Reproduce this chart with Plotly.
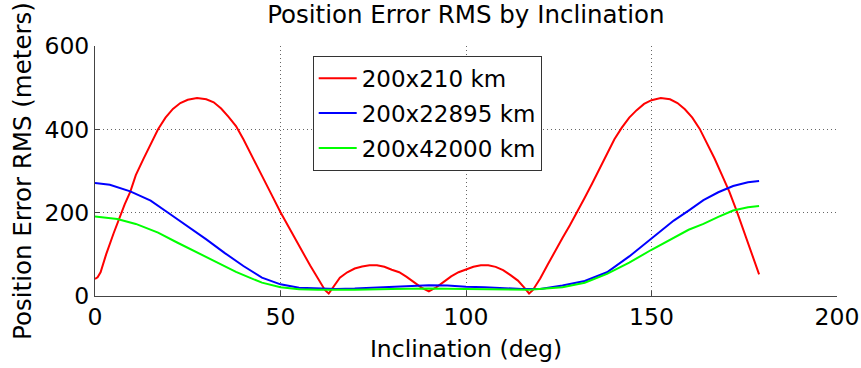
import plotly.graph_objects as go

red_x = [0, 0.7, 1.5, 3, 5, 6.5, 8, 9.5, 11, 13, 15, 17, 19, 21, 23, 25, 27.5, 30, 32, 34, 36, 38, 40, 42, 44, 46, 48,
         50, 52, 54, 56, 58, 60, 62, 63, 64, 66, 68, 70, 72, 74, 76, 78, 80, 82, 84, 86, 88, 90, 92, 94, 96, 98,
         100, 102, 104, 106, 108, 110, 112, 114, 116, 117, 118, 120, 122, 124, 126, 128, 130, 132, 134, 136, 138,
         140, 142, 144, 146, 148, 150, 152.5, 155, 157, 159, 161, 163, 165, 167, 169, 171, 173, 175, 177, 179]
red_y = [41, 45, 57, 100, 150, 187, 220, 250, 290, 328, 364, 400, 428, 449, 463, 471, 475, 472, 465, 450, 430, 408, 376,
         340, 306, 271, 236, 201, 168, 137, 105, 73, 42, 14, 6, 18, 44, 57, 66, 71, 74, 74, 70, 63, 57, 46, 33, 20,
         11, 21, 34, 47, 57, 64, 70, 74, 74, 70, 62, 50, 37, 17, 6, 14, 42, 75, 108, 139, 170, 202, 236, 270, 305,
         342, 376, 404, 428, 446, 461, 470, 475, 472, 463, 448, 428, 401, 366, 330, 290, 250, 203, 152, 102, 52]

blue_x = [0, 4, 9.5, 15, 20, 25, 30, 35, 40, 45, 50, 55, 60, 65, 70, 75, 80, 85, 90, 95, 100, 105, 110, 115, 120,
          126, 132, 138, 144, 150, 156, 160, 164, 168, 172, 176, 179]
blue_y = [271, 267, 251, 229, 198, 168, 136, 103, 72, 44, 28, 20, 18, 17, 18, 20, 22, 25, 26, 25, 22, 21, 19, 17,
          17, 25, 36, 57, 95, 137, 181, 205, 230, 249, 264, 273, 276]

green_x = [0, 6, 11, 17, 22, 27.5, 33, 38, 42, 45, 50, 55, 60, 70, 80, 90, 100, 110, 117, 126, 132, 138, 144, 150,
           156, 160, 164, 168, 172, 176, 179]
green_y = [191, 185, 173, 152, 129, 105, 80, 58, 43, 32, 21, 16, 15, 15, 17, 18, 17, 15, 15, 21, 32, 53, 80, 111,
           141, 159, 173, 190, 205, 213, 216]

names = ["200x210 km", "200x22895 km", "200x42000 km"]
colors = ["#ff0000", "#0000ff", "#00ff00"]
x_ticks = [0, 50, 100, 150, 200]
y_ticks = [0, 200, 400, 600]

FONT = "DejaVu Sans, Liberation Sans, Arial, sans-serif"

fig = go.Figure()
for xs, ys, nm, c in [(red_x, red_y, names[0], colors[0]),
                      (blue_x, blue_y, names[1], colors[1]),
                      (green_x, green_y, names[2], colors[2])]:
    fig.add_trace(go.Scatter(x=xs, y=ys, mode="lines", name=nm, legendgroup=nm,
                             line=dict(color=c, width=2)))

axis_common = dict(showline=True, linecolor="#444", linewidth=1, ticks="inside", ticklen=5,
                   tickcolor="#444", showgrid=True, gridcolor="#666", griddash="1px,3px", gridwidth=1,
                   zeroline=False, automargin=False, ticklabeloverflow="allow",
                   tickfont=dict(size=23.5, color="black", family=FONT))

fig.update_xaxes(range=[0, 200], tickvals=x_ticks, title=dict(text="Inclination (deg)",
                 font=dict(size=23.5, color="black", family=FONT), standoff=10), **axis_common)
fig.update_yaxes(range=[0, 600], tickvals=y_ticks, title=dict(text="Position Error RMS (meters)",
                 font=dict(size=24.5, color="black", family=FONT), standoff=5), **axis_common)

fig.update_layout(
    width=861, height=368,
    margin=dict(l=95, r=24, t=46, b=72),
    paper_bgcolor="white", plot_bgcolor="white",
    font=dict(family=FONT, size=24, color="black"),
    title=dict(text="Position Error RMS by Inclination", x=0.541, xanchor="center",
               y=0.96, yanchor="middle", font=dict(size=24.5, color="black", family=FONT)),
    showlegend=True,
    legend=dict(x=0.2934, y=0.961, xanchor="left", yanchor="top", bgcolor="white", itemwidth=38,
                tracegroupgap=2, bordercolor="#333", borderwidth=1,
                font=dict(size=23, color="black", family=FONT)),
)

fig.write_html("out.html", config={"displayModeBar": False},
               post_script="document.body.style.margin='0px';")
